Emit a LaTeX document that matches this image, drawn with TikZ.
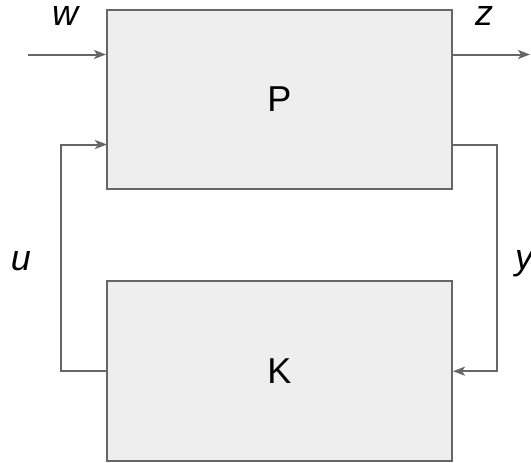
\documentclass[tikz,border=0pt]{standalone}
\usepackage{fontspec}
\setmainfont{Liberation Sans}
\usetikzlibrary{arrows.meta}
\definecolor{linegray}{HTML}{666666}
\definecolor{boxfill}{HTML}{EEEEEE}
\tikzset{
  blockbox/.style={draw=linegray, fill=boxfill, line width=2pt, minimum width=345pt, minimum height=179.5pt, inner sep=0pt, font=\fontsize{36}{40}\selectfont},
  sig/.style={draw=linegray, line width=2pt, -{Stealth[length=12pt,width=9pt,inset=3pt]}},
  lab/.style={anchor=base, inner sep=0pt, font=\fontsize{36}{40}\selectfont\itshape}
}
\begin{document}
\begin{tikzpicture}[x=1pt,y=-1pt]
\useasboundingbox (0,0) rectangle (531,463);
\node[blockbox] (P) at (279.5,99.3) {P};
\node[blockbox] (K) at (279.5,371.2) {K};
\coordinate (win) at (28,54.5);
\coordinate (zout) at (530,54.5);
\coordinate (pu) at (107,144.5);
\coordinate (py) at (452,144.5);
\coordinate (yr) at (497,144.5);
\coordinate (ul) at (61,144.5);
\draw[sig] (win) -- (win -| P.west);
\draw[sig] (zout -| P.east) -- (zout);
\draw[sig] (py) -- (yr) -- (yr |- K.east) -- (K.east);
\draw[sig] (K.west) -- (ul |- K.west) -- (ul) -- (pu);
\node[lab] (w) at (65,26) {w};
\node[lab] (z) at (484,26) {z};
\node[lab] (u) at (21,270) {u};
\node[lab] (y) at (524,269) {y};
\end{tikzpicture}
\end{document}
